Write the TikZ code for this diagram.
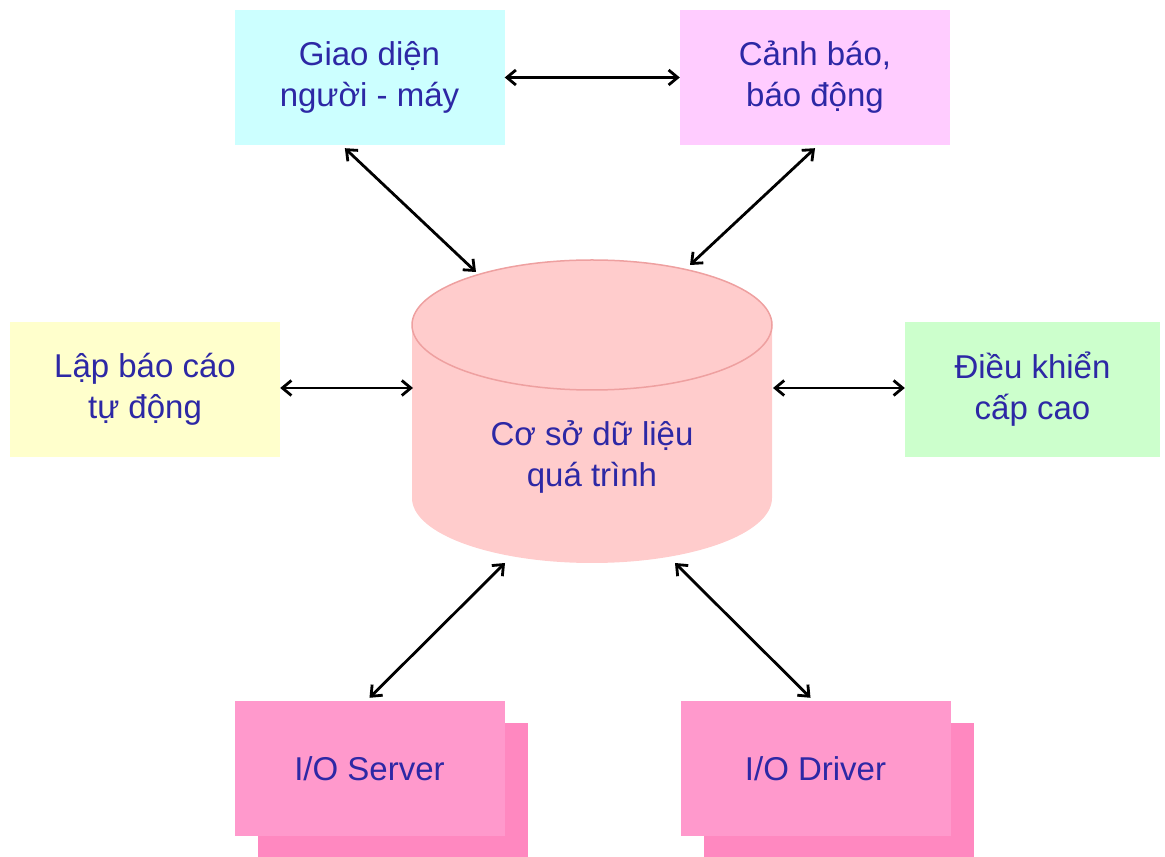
\documentclass[tikz,border=0pt]{standalone}
\usepackage{fontspec}
\setmainfont{Liberation Sans}
\usetikzlibrary{arrows.meta}
\definecolor{txtblue}{RGB}{45,40,165}
\definecolor{hmicol}{RGB}{204,255,255}
\definecolor{alarmcol}{RGB}{255,204,255}
\definecolor{reportcol}{RGB}{255,255,204}
\definecolor{controlcol}{RGB}{204,255,204}
\definecolor{dbcol}{RGB}{255,204,204}
\definecolor{dbline}{RGB}{238,160,160}
\definecolor{iocol}{RGB}{255,153,204}
\definecolor{ioback}{RGB}{255,136,192}

\tikzstyle{block} = [align=center, rectangle, minimum height=135pt, minimum width=270pt, inner sep=0pt, text=txtblue, font=\fontsize{33}{41}\selectfont]
\tikzstyle{link} = [{Straight Barb[length=9pt,width=15pt]}-{Straight Barb[length=9pt,width=15pt]}, line width=2.8pt]

\begin{document}
\begin{tikzpicture}[x=1pt,y=1pt]
            \useasboundingbox (0,0) rectangle (1165,857);
            %
            % We start by placing the blocks
            \node [block, fill=hmicol] (hmi) at (369.5,779.5) {Giao diện\\người - máy};
            \node [block, fill=alarmcol] (alarm) at (815,779.5) {Cảnh báo,\\báo động};
            \node [block, fill=reportcol] (report) at (145,467.5) {Lập báo cáo\\tự động};
            \node [block, fill=controlcol, minimum width=255pt] (control) at (1032.5,467.5) {Điều khiển\\cấp cao};
            % The I/O blocks sit on a second sheet
            \node [block, fill=ioback] (server-back) at (392.5,66.5) {};
            \node [block, fill=iocol] (server) at (369.5,88.5) {I/O Server};
            \node [block, fill=ioback] (driver-back) at (838.5,66.5) {};
            \node [block, fill=iocol] (driver) at (815.5,88.5) {I/O Driver};
            %
            % The database is a cylinder
            \fill [dbcol] (412,532) -- (412,359) arc[start angle=180, end angle=360, x radius=180, y radius=65] -- (772,532) -- cycle;
            \draw [dbline, fill=dbcol, line width=1.5pt] (592,532) ellipse [x radius=180, y radius=65];
            \node [block, minimum width=0pt, minimum height=0pt] (db) at (592,400) {Cơ sở dữ liệu\\quá trình};
            \coordinate (db-nw) at (476,585);
            \coordinate (db-ne) at (690,592);
            \coordinate (db-w) at (413,469);
            \coordinate (db-e) at (773,469);
            \coordinate (db-sw) at (505,294);
            \coordinate (db-se) at (675,294);
            %
            % Once the nodes are placed, connecting them is easy.
            \draw [link] (hmi.east) -- (alarm.west);
            \draw [link] ([yshift=-3pt]hmi.250) -- (db-nw);
            \draw [link] ([yshift=-3pt]alarm.south) -- (db-ne);
            \draw [link] (report.east |- db-w) -- (db-w);
            \draw [link] (control.west |- db-e) -- (db-e);
            \draw [link] (db-sw) -- ([yshift=3pt]server.north);
            \draw [link] (db-se) -- ([xshift=-5pt,yshift=3pt]driver.north);
            %
        \end{tikzpicture}
\end{document}
